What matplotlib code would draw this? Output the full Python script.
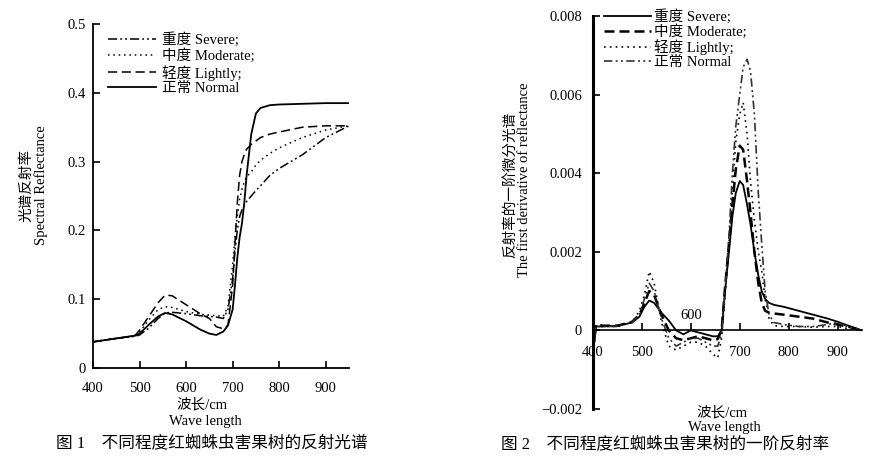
#!/usr/bin/env python3
import matplotlib
matplotlib.use('Agg')
import matplotlib.pyplot as plt

plt.rcParams['font.family'] = ['Liberation Serif', 'Noto Sans CJK SC']
plt.rcParams['axes.unicode_minus'] = True

# Figure 1 data: spectral reflectance
wl1 = [400, 450, 490, 500, 520, 540, 555, 570, 600, 630, 650, 665, 680, 690,
       700, 705, 710, 715, 720, 725, 730, 740, 750, 760, 780, 800, 850, 900, 950]
refl_severe = [0.038, 0.043, 0.046, 0.048, 0.058, 0.072, 0.080, 0.081, 0.079, 0.076, 0.075, 0.074, 0.072, 0.085,
               0.130, 0.170, 0.200, 0.220, 0.230, 0.236, 0.242, 0.250, 0.258, 0.265, 0.280, 0.290, 0.310, 0.335, 0.352]
refl_moderate = [0.038, 0.043, 0.047, 0.052, 0.070, 0.085, 0.089, 0.088, 0.082, 0.078, 0.077, 0.076, 0.075, 0.090,
                 0.150, 0.190, 0.220, 0.245, 0.260, 0.270, 0.278, 0.285, 0.295, 0.302, 0.312, 0.320, 0.335, 0.346, 0.352]
refl_lightly = [0.038, 0.043, 0.047, 0.055, 0.075, 0.095, 0.106, 0.105, 0.092, 0.079, 0.072, 0.060, 0.057, 0.062,
                0.120, 0.180, 0.240, 0.280, 0.300, 0.310, 0.318, 0.325, 0.330, 0.335, 0.340, 0.343, 0.350, 0.352, 0.352]
refl_normal = [0.038, 0.043, 0.047, 0.050, 0.063, 0.075, 0.080, 0.078, 0.068, 0.056, 0.050, 0.048, 0.053, 0.062,
               0.085, 0.120, 0.160, 0.190, 0.210, 0.240, 0.280, 0.340, 0.370, 0.378, 0.382, 0.383, 0.384, 0.385, 0.385]

# Figure 2 data: first derivative of reflectance
wl2 = [400, 403, 406, 420, 450, 480, 495, 505, 515, 525, 540, 555, 570, 585, 600, 615, 630, 645, 655, 663,
       670, 678, 685, 692, 700, 707, 715, 722, 730, 738, 745, 752, 760, 770, 790, 820, 850, 880, 900, 920, 950]
der_severe = [0.0, -0.0003, 0.0001, 0.0001, 0.00012, 0.0002, 0.00035, 0.0006, 0.00076, 0.0007, 0.00045, 0.00025,
              0.0, -0.0001, 0.0, -0.00005, -0.0001, -0.00015, -0.00015, 0.0,
              0.0010, 0.0020, 0.0029, 0.0035, 0.0038, 0.0037, 0.0032, 0.0027, 0.0020, 0.0014, 0.0010, 0.0008,
              0.0007, 0.00065, 0.0006, 0.0005, 0.0004, 0.0003, 0.00022, 0.00013, 0.0]
der_moderate = [0.0001, -0.0002, 0.00015, 0.00012, 0.00012, 0.00022, 0.0004, 0.0007, 0.0010, 0.0009, 0.0004, 0.0,
                -0.0002, -0.00025, -0.0002, -0.00015, -0.0002, -0.00025, -0.00022, 0.0,
                0.0011, 0.0022, 0.0032, 0.0041, 0.0047, 0.0046, 0.0038, 0.0030, 0.0020, 0.0012, 0.0007, 0.0005,
                0.00045, 0.00043, 0.0004, 0.00035, 0.0003, 0.0002, 0.00015, 0.0001, 0.0]
der_lightly = [0.0001, -0.0002, 0.0001, 0.0001, 0.0001, 0.0002, 0.0005, 0.0009, 0.0015, 0.0012, 0.0002, -0.0004,
               -0.0005, -0.0004, -0.0003, -0.0003, -0.0004, -0.0006, -0.0007, -0.0002,
               0.0009, 0.0022, 0.0036, 0.0048, 0.0055, 0.0058, 0.0050, 0.0038, 0.0028, 0.0020, 0.0015, 0.0008,
               0.0003, 0.00012, 0.0001, 0.0001, 0.00008, 0.0001, 0.0001, 0.00005, 0.0]
der_normal = [0.0001, -0.0003, 0.0001, 0.0001, 0.0001, 0.0002, 0.0004, 0.0008, 0.0012, 0.0010, 0.0003, -0.0002,
              -0.0004, -0.0003, -0.0002, -0.0002, -0.0003, -0.0004, -0.0004, -0.0001,
              0.0010, 0.0024, 0.0040, 0.0052, 0.0060, 0.0067, 0.0069, 0.0066, 0.0055, 0.0035, 0.0022, 0.0010,
              0.0004, 0.0002, 0.00015, 0.0001, 0.0001, 0.00015, 0.0002, 0.0001, 0.0]

W, H = 892, 462
fig = plt.figure(figsize=(W / 100, H / 100), dpi=100)
fs = 10.5

# ---------------- Figure 1 ----------------
ax1 = fig.add_axes([93 / W, 1 - 368 / H, (349 - 93) / W, (368 - 24) / H])
ax1.plot(wl1, refl_severe, color='black', lw=1.1, linestyle=(0, (6, 2, 1.2, 2, 1.2, 2)), label='重度 Severe;')
ax1.plot(wl1, refl_moderate, color='black', lw=1.1, linestyle=(0, (1, 2.5)), label='中度 Moderate;')
ax1.plot(wl1, refl_lightly, color='black', lw=1.1, linestyle=(0, (6, 3)), label='轻度 Lightly;')
ax1.plot(wl1, refl_normal, color='black', lw=1.3, linestyle='-', label='正常 Normal')
ax1.set_xlim(400, 950)
ax1.set_ylim(0, 0.5)
ax1.set_xticks([400, 500, 600, 700, 800, 900])
ax1.set_yticks([0, 0.1, 0.2, 0.3, 0.4, 0.5])
ax1.set_yticklabels(['0', '0.1', '0.2', '0.3', '0.4', '0.5'])
for s in ['top', 'right']:
    ax1.spines[s].set_visible(False)
ax1.spines['left'].set_linewidth(1.3)
ax1.spines['bottom'].set_linewidth(1.3)
ax1.tick_params(axis='both', direction='in', length=5, width=1.2, labelsize=fs)
ax1.tick_params(axis='x', pad=10)
ax1.tick_params(axis='y', pad=5)
ax1.legend(loc='upper left', bbox_to_anchor=(108 / W, 1 - 32 / H), bbox_transform=fig.transFigure,
           frameon=False, fontsize=fs, handlelength=3.3, handletextpad=0.4, labelspacing=0.12,
           borderaxespad=0, borderpad=0)

fig.text(27 / W, 1 - 185 / H, '光谱反射率', rotation=90, ha='center', va='center', fontsize=fs)
fig.text(41 / W, 1 - 185 / H, 'Spectral Reflectance', rotation=90, ha='center', va='center', fontsize=fs)
fig.text(202 / W, 1 - 405 / H, '波长/cm', ha='center', va='center', fontsize=fs)
fig.text(205 / W, 1 - 421 / H, 'Wave length', ha='center', va='center', fontsize=fs)
fig.text(212 / W, 1 - 443 / H, '图 1    不同程度红蜘蛛虫害果树的反射光谱', ha='center', va='center', fontsize=12)

# ---------------- Figure 2 ----------------
ax2 = fig.add_axes([593 / W, 1 - 409 / H, (862 - 593) / W, (409 - 16) / H])
ax2.plot(wl2, der_severe, color='black', lw=1.3, linestyle='-', label='重度 Severe;')
ax2.plot(wl2, der_moderate, color='black', lw=1.8, linestyle=(0, (4, 2)), label='中度 Moderate;')
ax2.plot(wl2, der_lightly, color='black', lw=1.2, linestyle=(0, (1, 2.5)), label='轻度 Lightly;')
ax2.plot(wl2, der_normal, color='#333333', lw=1.2, linestyle=(0, (5, 2, 1.2, 2, 1.2, 2)), label='正常 Normal')
ax2.set_xlim(400, 950)
ax2.set_ylim(-0.002, 0.008)
ax2.set_xticks([400, 500, 600, 700, 800, 900])
ax2.set_xticklabels(['400', '500', '', '700', '800', '900'])
ax2.set_yticks([-0.002, 0, 0.002, 0.004, 0.006, 0.008])
ax2.set_yticklabels(['\u22120.002', '0', '0.002', '0.004', '0.006', '0.008'])
for s in ['top', 'right']:
    ax2.spines[s].set_visible(False)
ax2.spines['bottom'].set_position(('data', 0))
ax2.spines['bottom'].set_linewidth(1.2)
ax2.spines['left'].set_linewidth(2.2)
ax2.tick_params(axis='both', direction='in', length=5, width=1.2, labelsize=fs)
ax2.tick_params(axis='x', pad=11)
ax2.tick_params(axis='y', pad=8)
ax2.text(600, 0.00022, '600', ha='center', va='bottom', fontsize=fs)
ax2.legend(loc='upper left', bbox_to_anchor=(604 / W, 1 - 9 / H), bbox_transform=fig.transFigure,
           frameon=False, fontsize=fs, handlelength=3.2, handletextpad=0.2, labelspacing=0.05,
           borderaxespad=0, borderpad=0)

fig.text(510 / W, 1 - 185 / H, '反射率的一阶微分光谱', rotation=90, ha='center', va='center', fontsize=fs)
fig.text(524 / W, 1 - 180 / H, 'The first derivative of reflectance', rotation=90, ha='center', va='center',
         fontsize=fs)
fig.text(722 / W, 1 - 413 / H, '波长/cm', ha='center', va='center', fontsize=fs)
fig.text(724 / W, 1 - 428 / H, 'Wave length', ha='center', va='center', fontsize=fs)
fig.text(665 / W, 1 - 444 / H, '图 2    不同程度红蜘蛛虫害果树的一阶反射率', ha='center', va='center', fontsize=12)

fig.savefig('out.png', dpi=100)
